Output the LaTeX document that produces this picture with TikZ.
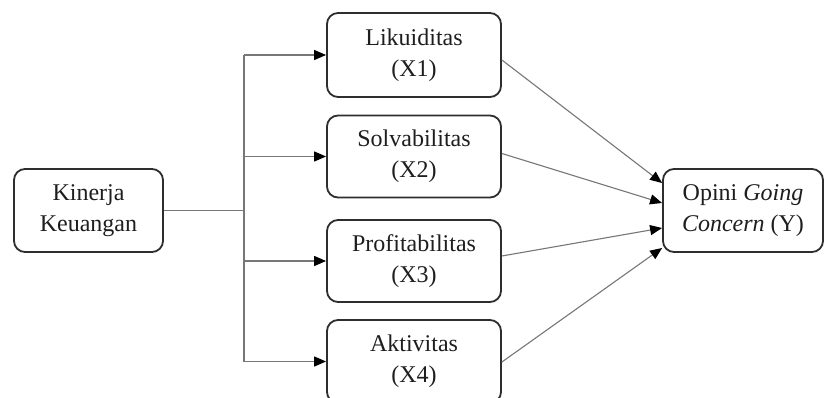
\documentclass[tikz,border=0pt]{standalone}
\usepackage{fontspec}
\setmainfont{Liberation Serif}
\usetikzlibrary{arrows.meta}
\definecolor{boxline}{HTML}{2E2E2E}
\definecolor{conline}{HTML}{777777}
\definecolor{txt}{HTML}{1E1E1E}
\begin{document}
\begin{tikzpicture}[x=1pt,y=1pt,
  box/.style={draw=boxline, line width=1.8pt, rounded corners=11pt, fill=white,
    inner sep=0pt, align=center, text=txt, font=\fontsize{24}{31}\selectfont},
  conn/.style={draw=conline, line width=1.1pt},
  arr/.style={conn, -{Triangle[length=12pt,width=10pt,color=black,fill=black]}}]
\useasboundingbox (0,0) rectangle (825,-398);
\fill[white] (0,0) rectangle (825,-398);
\node[box, minimum width=149pt, minimum height=83pt] (K) at (88.5,-210.5) {Kinerja\\Keuangan};
\node[box, minimum width=174pt, minimum height=84pt] (X1) at (414,-55) {Likuiditas\\(X1)};
\node[box, minimum width=174pt, minimum height=82pt] (X2) at (414,-156.5) {Solvabilitas\\(X2)};
\node[box, minimum width=174pt, minimum height=82pt] (X3) at (414,-261) {Profitabilitas\\(X3)};
\node[box, minimum width=174pt, minimum height=83pt] (X4) at (414,-361.5) {Aktivitas\\(X4)};
\node[box, minimum width=160pt, minimum height=83pt] (Y) at (743,-210.5) {Opini \textit{Going}\\\textit{Concern} (Y)};
\coordinate (J) at (244,-210.5);
\draw[conn] (K.east) -- (J);
\draw[conn] (J |- X1.west) -- (J |- X4.west);
\draw[arr] (J |- X1.west) -- (X1.west);
\draw[arr] (J |- X2.west) -- (X2.west);
\draw[arr] (J |- X3.west) -- (X3.west);
\draw[arr] (J |- X4.west) -- (X4.west);
\draw[arr] ([yshift=-5pt]X1.east) -- ([yshift=27.5pt]Y.west);
\draw[arr] ([yshift=3pt]X2.east) -- ([yshift=7.5pt]Y.west);
\draw[arr] ([yshift=5pt]X3.east) -- ([yshift=-17.5pt]Y.west);
\draw[arr] ([yshift=-0.5pt]X4.east) -- ([yshift=-37.5pt]Y.west);
\end{tikzpicture}
\end{document}
